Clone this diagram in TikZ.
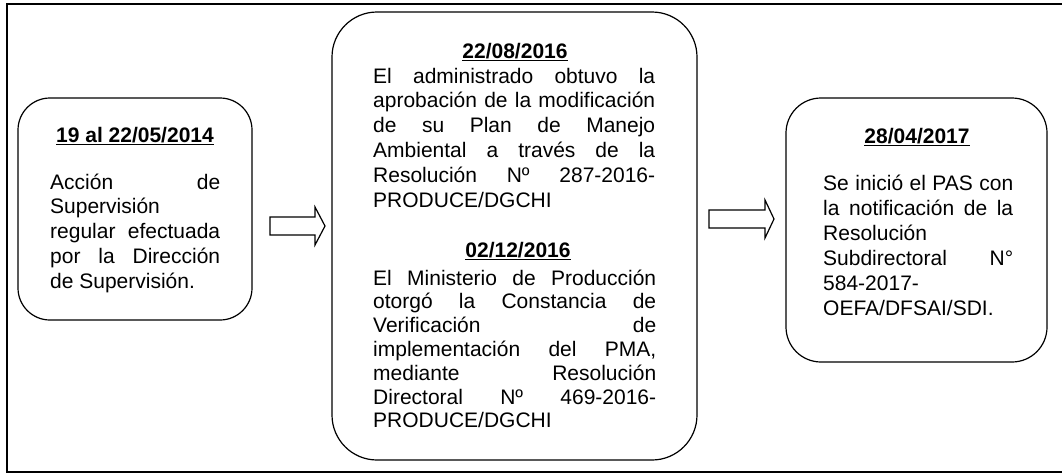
\documentclass[tikz,border=0pt]{standalone}
\usepackage{fontspec}
\setmainfont{Liberation Sans}
\newlength\lw
\newcommand{\jl}[1]{\hbox to\lw{#1}}
\newcommand{\fl}[1]{\hbox{#1}}
\newcommand{\blk}[3]{\vtop{\setlength\lw{#1}\baselineskip=#2\relax #3}}
\newcommand{\ttl}[1]{\underline{\textbf{#1}}}
\begin{document}
\begin{tikzpicture}[x=1pt,y=-1pt,
  box/.style={draw, line width=1.2pt, fill=white, inner sep=0pt},
  txt/.style={inner sep=0pt, anchor=base west, font=\fontsize{21}{24.8}\selectfont},
  ttlnode/.style={inner sep=0pt, anchor=base, font=\fontsize{21}{24.8}\selectfont},
  blockarrow/.style={draw, line width=1.2pt, fill=white, line join=miter},
  frame/.style={line width=1.3pt}]
\fill[white] (0,0) rectangle (1062,474);
\useasboundingbox (0,0) rectangle (1062,474);
\draw[frame] (1063,4) -- (7,4) -- (7,472) -- (1063,472);

% boxes
\node[box, rounded corners=32pt, minimum width=234pt, minimum height=222pt] (b1) at (135,209) {};
\node[box, rounded corners=45pt, minimum width=365pt, minimum height=448pt] (b2) at (514.5,236) {};
\node[box, rounded corners=35pt, minimum width=261pt, minimum height=264pt] (b3) at (916.5,230) {};

% arrows
\coordinate (a1) at (270,226);
\draw[blockarrow] (a1) ++(0,-9) -- ++(45,0) -- ++(0,-10) -- ++(10,19) -- ++(-10,19) -- ++(0,-10) -- ++(-45,0) -- cycle;
\coordinate (a2) at (709,219);
\draw[blockarrow] (a2) ++(0,-9) -- ++(56,0) -- ++(0,-10) -- ++(9,19) -- ++(-9,19) -- ++(0,-10) -- ++(-56,0) -- cycle;

% left box text
\node[ttlnode] (t1) at (135,142) {\ttl{19 al 22/05/2014}};
\node[txt] (x1) at (50,189) {\blk{170pt}{24.75pt}{%
\jl{Acción de}
\fl{Supervisión}
\jl{regular efectuada}
\jl{por la Dirección}
\fl{de Supervisión.}}};

% middle box text
\node[ttlnode] (t2) at (515,58) {\ttl{22/08/2016}};
\node[txt] (x2) at (373,83) {\blk{282pt}{24.8pt}{%
\jl{El administrado obtuvo la}
\jl{aprobación de la modificación}
\jl{de su Plan de Manejo}
\jl{Ambiental a través de la}
\jl{Resolución Nº 287-2016-}
\fl{PRODUCE/DGCHI}}};
\node[ttlnode] (t3) at (518,257) {\ttl{02/12/2016}};
\node[txt] (x3) at (373,285) {\blk{283pt}{23.8pt}{%
\jl{El Ministerio de Producción}
\jl{otorgó la Constancia de}
\jl{Verificación de}
\jl{implementación del PMA,}
\jl{mediante Resolución}
\jl{Directoral Nº 469-2016-}
\fl{PRODUCE/DGCHI}}};

% right box text
\node[ttlnode] (t4) at (917,143) {\ttl{28/04/2017}};
\node[txt] (x4) at (823,190) {\blk{190pt}{25pt}{%
\jl{Se inició el PAS con}
\jl{la notificación de la}
\fl{Resolución}
\jl{Subdirectoral N°}
\fl{584-2017-}
\fl{OEFA/DFSAI/SDI.}}};
\end{tikzpicture}
\end{document}
